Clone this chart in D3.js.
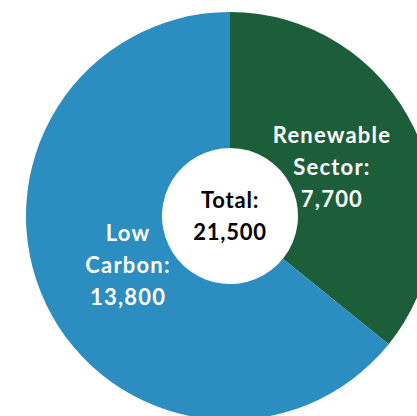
<!DOCTYPE html>
<html>
<head>
<meta charset="utf-8">
<script src="https://cdn.jsdelivr.net/npm/d3@7"></script>
<style>
  html, body { margin: 0; padding: 0; background: #ffffff; }
  svg { display: block; }
  text { font-family: "Lato", "Open Sans", sans-serif; }
</style>
</head>
<body>
<svg id="chart" width="417" height="416"></svg>
<script>
const categories = ["Renewable Sector", "Low Carbon"];
const labelLines = [["Renewable", "Sector:"], ["Low", "Carbon:"]];
const values = [7700, 13800];
const valueLabels = ["7,700", "13,800"];
const totalLabel = ["Total:", "21,500"];
const colors = ["#1d5e3a", "#2b8dc0"];

const svg = d3.select("#chart");
const cx = 230, cy = 216, outerR = 204, innerR = 68, labelR = 113;

const g = svg.append("g").attr("transform", `translate(${cx},${cy})`);

const pie = d3.pie().sort(null).value(d => d.value);
const data = pie(categories.map((c, i) => ({ name: c, value: values[i], lines: labelLines[i], vlabel: valueLabels[i], color: colors[i] })));

const arc = d3.arc().innerRadius(innerR).outerRadius(outerR);
const labelArc = d3.arc().innerRadius(labelR).outerRadius(labelR);

g.selectAll("path.slice").data(data).join("path")
  .attr("class", "slice")
  .attr("d", arc)
  .attr("fill", d => d.data.color);

const lh = 32;
const labels = g.selectAll("text.lbl").data(data).join("text")
  .attr("class", "lbl")
  .attr("text-anchor", "middle")
  .attr("fill", "#ffffff")
  .attr("font-size", 22)
  .attr("font-weight", 700)
  .attr("letter-spacing", 1.2)
  .attr("transform", d => { const [x, y] = labelArc.centroid(d); return `translate(${x},${y})`; });

labels.each(function(d) {
  const t = d3.select(this);
  const lines = d.data.lines.concat([d.data.vlabel]);
  lines.forEach((s, i) => {
    t.append("tspan").attr("x", 0).attr("y", (i - 1) * lh + 8).text(s);
  });
});

const tot = g.append("text")
  .attr("text-anchor", "middle")
  .attr("fill", "#000000")
  .attr("font-size", 22)
  .attr("font-weight", 700)
  .attr("letter-spacing", 0.8);
totalLabel.forEach((s, i) => {
  tot.append("tspan").attr("x", 0).attr("y", -8 + i * lh).text(s);
});
</script>
</body>
</html>
